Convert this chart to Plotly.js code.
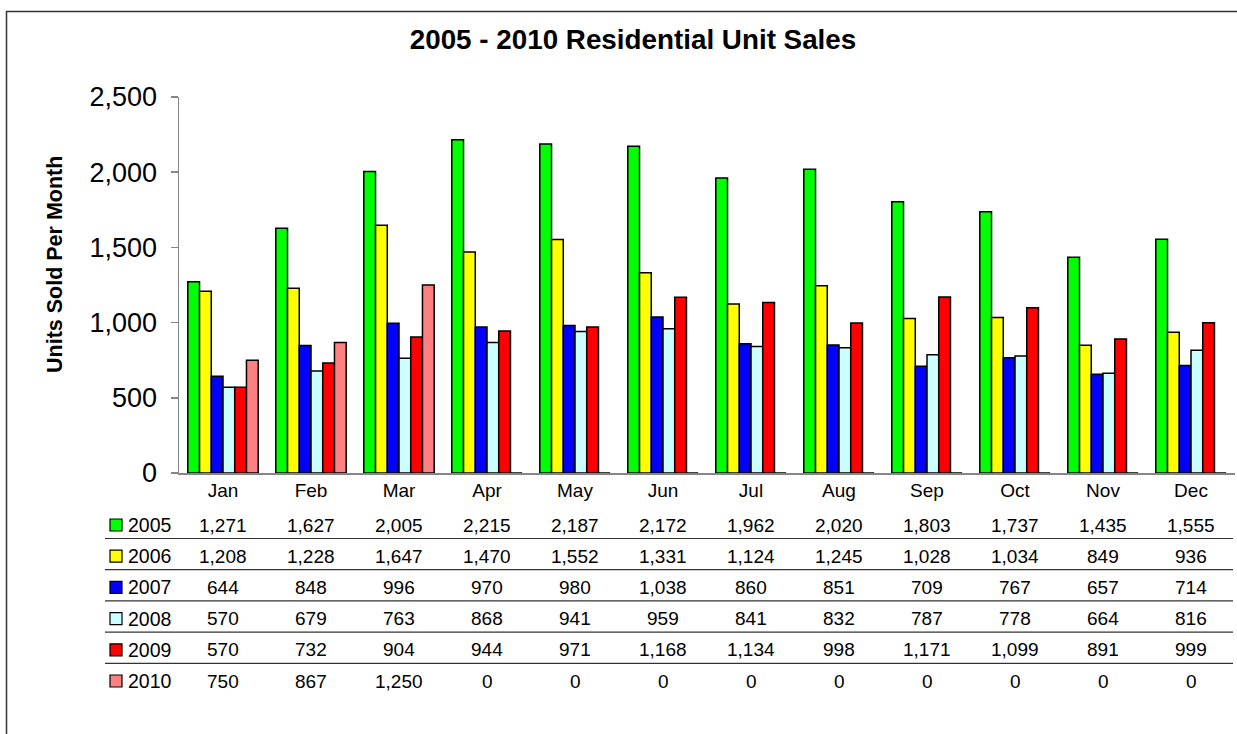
<!DOCTYPE html>
<html>
<head>
<meta charset="utf-8">
<script src="https://cdn.plot.ly/plotly-3.0.1.min.js"></script>
<style>
  html, body { margin: 0; padding: 0; background: #fff; }
  #chart { width: 1237px; height: 734px; }
</style>
</head>
<body>
<div id="chart"></div>
<script>
// ---- data ----
const months = ['Jan','Feb','Mar','Apr','May','Jun','Jul','Aug','Sep','Oct','Nov','Dec'];
const years = ['2005','2006','2007','2008','2009','2010'];
const sales2005 = [1271,1627,2005,2215,2187,2172,1962,2020,1803,1737,1435,1555];
const sales2006 = [1208,1228,1647,1470,1552,1331,1124,1245,1028,1034,849,936];
const sales2007 = [644,848,996,970,980,1038,860,851,709,767,657,714];
const sales2008 = [570,679,763,868,941,959,841,832,787,778,664,816];
const sales2009 = [570,732,904,944,971,1168,1134,998,1171,1099,891,999];
const sales2010 = [750,867,1250,0,0,0,0,0,0,0,0,0];
const yTicks = [0,500,1000,1500,2000,2500];

const series = [sales2005, sales2006, sales2007, sales2008, sales2009, sales2010];
const colors = ['#00FF00','#FFFF00','#0000FF','#CCFFFF','#FF0000','#FF8080'];

// ---- layout geometry (pixels) ----
const W = 1237, H = 734;
const L = 179, R = 1235, T = 97, B = 473;
const px = x => (x - L) / (R - L);
const py = y => (B - y) / (B - T);
const FONT = 'Liberation Sans, Arial, sans-serif';

const traces = series.map((vals, i) => ({
  type: 'bar',
  name: years[i],
  x: months,
  y: vals,
  marker: { color: colors[i], line: { color: '#000', width: 1.5 } },
  showlegend: false,
  hoverinfo: 'x+y+name'
}));

const annotations = [];
const shapes = [];
const rowY0 = 525, rowStep = 31.2;

series.forEach((vals, i) => {
  const yc = rowY0 + i * rowStep;
  vals.forEach((v, j) => {
    annotations.push({
      x: months[j], xref: 'x', y: py(yc), yref: 'paper',
      text: v.toLocaleString('en-US'), showarrow: false,
      xanchor: 'center', yanchor: 'middle',
      font: { family: FONT, size: 19, color: '#000' }
    });
  });
  // legend key label
  annotations.push({
    x: px(126), xref: 'paper', y: py(yc), yref: 'paper',
    text: years[i], showarrow: false, xanchor: 'left', yanchor: 'middle',
    font: { family: FONT, size: 19.5, color: '#000' }
  });
  // legend key square
  shapes.push({
    type: 'rect', xref: 'paper', yref: 'paper',
    x0: px(110), x1: px(122), y0: py(yc + 6), y1: py(yc - 6),
    fillcolor: colors[i], line: { color: '#000', width: 1.2 }
  });
  if (i < series.length - 1) {
    const ly = yc + 13.5;
    shapes.push({
      type: 'line', xref: 'paper', yref: 'paper',
      x0: px(105), x1: px(1233), y0: py(ly), y1: py(ly),
      line: { color: '#333', width: 1.2 }
    });
  }
});

// outer chart border (top & left visible)
shapes.push({
  type: 'rect', xref: 'paper', yref: 'paper',
  x0: px(6.5), x1: px(1300), y0: py(800), y1: py(11.5),
  line: { color: '#333', width: 1.5 }, fillcolor: 'rgba(0,0,0,0)'
});

// y-axis title
annotations.push({
  x: px(55), xref: 'paper', y: py(265), yref: 'paper',
  text: '<b>Units Sold Per Month</b>', textangle: -90, showarrow: false,
  xanchor: 'center', yanchor: 'middle',
  font: { family: FONT, size: 21.5, color: '#000' }
});

const layout = {
  width: W, height: H,
  margin: { l: L, r: W - R, t: T, b: H - B, pad: 0 },
  paper_bgcolor: '#fff', plot_bgcolor: '#fff',
  title: {
    text: '<b>2005 - 2010 Residential Unit Sales</b>',
    x: 633 / W, xanchor: 'center', xref: 'container',
    y: 1 - 39 / H, yanchor: 'middle', yref: 'container',
    font: { family: FONT, size: 27.8, color: '#000' }
  },
  barmode: 'group', bargap: 0.2, bargroupgap: 0,
  xaxis: {
    type: 'category', categoryarray: months,
    showline: true, linecolor: '#868686', linewidth: 1.5,
    ticks: '', showgrid: false, zeroline: false,
    tickfont: { family: FONT, size: 19, color: '#000' },
    fixedrange: true
  },
  yaxis: {
    range: [0, 2500], tickvals: yTicks, tickformat: ',d',
    showline: true, linecolor: '#868686', linewidth: 1.5,
    ticks: 'outside', ticklen: 7, tickcolor: '#868686', tickwidth: 1.5,
    showgrid: false, zeroline: false,
    ticklabelstandoff: 8,
    tickfont: { family: FONT, size: 27, color: '#000' },
    fixedrange: true
  },
  shapes: shapes,
  annotations: annotations
};

Plotly.newPlot('chart', traces, layout, { displayModeBar: false, staticPlot: true });
</script>
</body>
</html>
